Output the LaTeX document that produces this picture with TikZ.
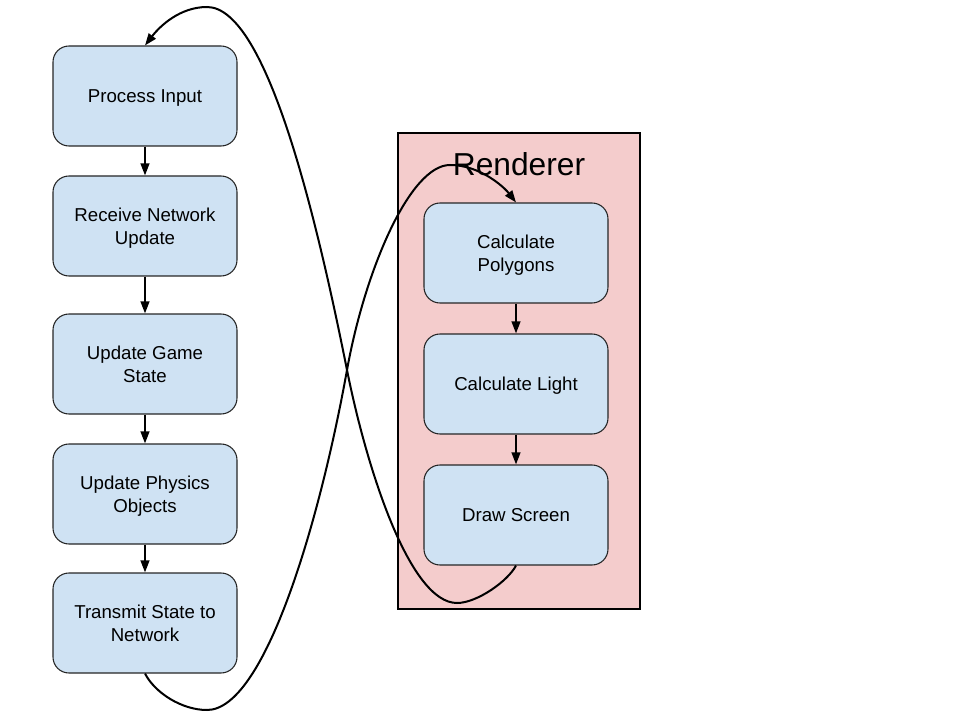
\documentclass[tikz,border=0pt]{standalone}
\usepackage{fontspec}
\setmainfont{Liberation Sans}
\usetikzlibrary{arrows.meta}
\definecolor{boxblue}{HTML}{CFE2F3}
\definecolor{rendpink}{HTML}{F4CCCC}
\tikzset{
  stepbox/.style={draw=black!85, line width=0.8pt, fill=boxblue, rounded corners=12pt,
    minimum width=138pt, minimum height=75pt, inner sep=0pt, align=center,
    text depth=0pt, font=\fontsize{14}{17.25}\selectfont},
  flow/.style={line width=1.5pt, -{Triangle[length=9pt,width=6.5pt]}},
  curve/.style={line width=1.5pt, -{Triangle[length=9pt,width=6.5pt]}},
}
\begin{document}
\begin{tikzpicture}[x=0.75pt,y=-0.75pt]
\useasboundingbox (0,0) rectangle (960,720);
% renderer group
\node[draw=black, line width=0.8pt, fill=rendpink, minimum width=181.5pt, minimum height=357pt, inner sep=0pt] (renderer) at (519,371) {};
\node[font=\fontsize{23.8}{28}\selectfont, inner sep=0pt] (rlabel) at (519,164) {Renderer};
% left column
\node[stepbox] (pi) at (145,96) {Process Input};
\node[stepbox] (rn) at (145,226) {Receive Network\\Update};
\node[stepbox] (ug) at (145,364) {Update Game\\State};
\node[stepbox] (up) at (145,494) {Update Physics\\Objects};
\node[stepbox] (tn) at (145,623) {Transmit State to\\Network};
% right column
\node[stepbox] (cp) at (516,253) {Calculate\\Polygons};
\node[stepbox] (cl) at (516,384) {Calculate Light};
\node[stepbox] (ds) at (516,515) {Draw Screen};
% straight arrows
\draw[flow] (pi) -- (rn);
\draw[flow] (rn) -- (ug);
\draw[flow] (ug) -- (up);
\draw[flow] (up) -- (tn);
\draw[flow] (cp) -- (cl);
\draw[flow] (cl) -- (ds);
% waypoints
\coordinate (a1) at (457,603);
\coordinate (x) at (347,370);
\coordinate (a2) at (207,7);
\coordinate (b1) at (207,710);
\coordinate (b2) at (450,165);
% curve from Draw Screen to Process Input
\draw[curve] (ds.south) .. controls (508,581) and (477,603) .. (a1)
  .. controls (410,603) and (367,470) .. (x)
  .. controls (317,220) and (267,7) .. (a2)
  .. controls (180,7) and (160,26) .. (pi.north);
% curve from Transmit to Calculate Polygons
\draw[curve] (tn.south) .. controls (155,693) and (182,710) .. (b1)
  .. controls (265,710) and (320,520) .. (x)
  .. controls (365,270) and (410,165) .. (b2)
  .. controls (480,165) and (504,187) .. (cp.north);
\end{tikzpicture}
\end{document}
